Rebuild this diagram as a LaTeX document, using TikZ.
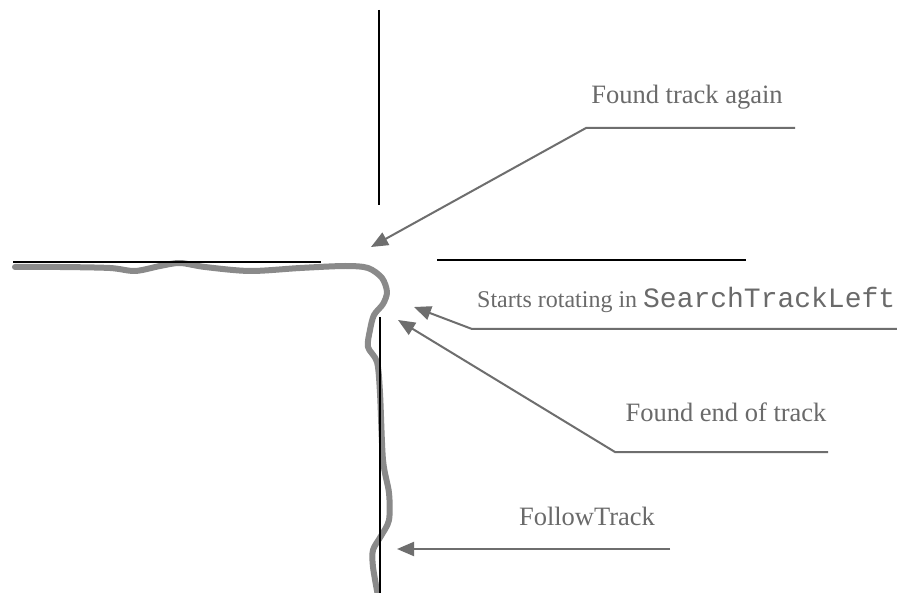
\documentclass[tikz,border=0pt]{standalone}
\usepackage{fontspec}
\setmainfont{Liberation Serif}
\setmonofont{Liberation Mono}
\usetikzlibrary{arrows.meta}
\definecolor{trackgray}{HTML}{8A8A8A}
\definecolor{arrowgray}{HTML}{6E6E6E}
\definecolor{labelgray}{HTML}{6A6A6A}
\begin{document}
\begin{tikzpicture}[x=1pt,y=-1pt,
  wall/.style={draw=black,line width=2.4pt},
  trackline/.style={draw=trackgray,line width=6pt,line cap=round,line join=round},
  pointer/.style={draw=arrowgray,line width=2pt,-{Triangle[length=17pt,width=14pt]}},
  label/.style={text=labelgray,inner sep=0pt,font=\fontsize{26.5}{30}\selectfont}
]
\useasboundingbox (0,0) rectangle (897,593);
\fill[white] (0,0) rectangle (897,593);
% black reference lines
\coordinate (vt1) at (379,10);
\coordinate (vt2) at (379,205);
\coordinate (hl1) at (13,262);
\coordinate (hl2) at (321,262);
\coordinate (hr1) at (437,260);
\coordinate (hr2) at (746,260);
\coordinate (vb1) at (380,317);
\coordinate (vb2) at (380,593);
% gray track
\draw[trackline] plot[smooth,tension=0.5] coordinates {(15,267) (60,267) (110,268) (135,271) (160,266) (180,263) (205,267) (250,271) (300,268) (345,266) (368,268) (382,278) (387,292) (383,304) (374,315) (370,330) (368,347) (377,362) (380,393) (383,460) (389,493) (389,520) (381,536) (373,550) (373,567) (378,596)};
\draw[wall] (vt1) -- (vt2);
\draw[wall] (hl1) -- (hl2);
\draw[wall] (hr1) -- (hr2);
\draw[wall] (vb1) -- (vb2);
% labels
\node[label,anchor=base] (l1) at (687,104) {Found track again};
\node[label,anchor=base west,font=\fontsize{24}{30}\selectfont] (l2) at (477,308) {Starts rotating in {\ttfamily\fontsize{28}{30}\selectfont SearchTrackLeft}};
\node[label,anchor=base] (l3) at (726,421) {Found end of track};
\node[label,anchor=base] (l4) at (587,525) {FollowTrack};
% pointers
\coordinate (a1s) at (795,128);
\coordinate (a1k) at (586,128);
\coordinate (a1t) at (371,247);
\draw[pointer] (a1s) -- (a1k) -- (a1t);
\coordinate (a2s) at (900,329);
\coordinate (a2k) at (472,329);
\coordinate (a2t) at (414,307);
\draw[pointer] (a2s) -- (a2k) -- (a2t);
\coordinate (a3s) at (828,452);
\coordinate (a3k) at (615,452);
\coordinate (a3t) at (398,320);
\draw[pointer] (a3s) -- (a3k) -- (a3t);
\coordinate (a4s) at (670,549);
\coordinate (a4t) at (397,549);
\draw[pointer] (a4s) -- (a4t);
\end{tikzpicture}
\end{document}
